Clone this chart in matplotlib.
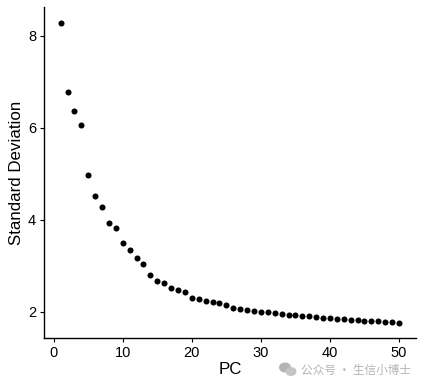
import matplotlib
matplotlib.use("Agg")
import matplotlib.pyplot as plt
from matplotlib.patches import Ellipse

# elbow plot values
pc = list(range(1, 51))
stdev = [8.29, 6.78, 6.36, 6.06, 4.97, 4.52, 4.29, 3.93, 3.83, 3.50,
         3.35, 3.18, 3.03, 2.80, 2.67, 2.62, 2.51, 2.47, 2.42, 2.30,
         2.27, 2.23, 2.21, 2.20, 2.15, 2.09, 2.05, 2.04, 2.02, 2.00,
         1.985, 1.975, 1.95, 1.94, 1.925, 1.915, 1.90, 1.89, 1.87, 1.86,
         1.85, 1.85, 1.83, 1.82, 1.81, 1.81, 1.79, 1.78, 1.77, 1.755]
xticks = [0, 10, 20, 30, 40, 50]
yticks = [2, 4, 6, 8]
watermark = "公众号 · 生信小博士"

plt.rcParams['font.family'] = ['Liberation Sans', 'DejaVu Sans']

W, H = 425, 388
fig = plt.figure(figsize=(W / 100, H / 100), dpi=100)
# axes box in pixels: left 43.7, right 416, top 7, bottom 338
ax = fig.add_axes([43.7 / W, 1 - 338 / H, (416 - 43.7) / W, (338 - 7) / H])

ax.scatter(pc, stdev, s=19, color="black", linewidths=0, zorder=3)

ax.set_xlim(-1.45, 52.46)
ax.set_ylim(1.43, 8.63)
ax.set_xticks(xticks)
ax.set_yticks(yticks)
ax.tick_params(labelsize=10.5, length=3, width=0.8, pad=2.5, colors="black")
ax.set_xlabel("PC", fontsize=12.2, labelpad=1.5)
ax.set_ylabel("Standard Deviation", fontsize=12.2, labelpad=3)

for side in ["top", "right"]:
    ax.spines[side].set_visible(False)
for side in ["left", "bottom"]:
    ax.spines[side].set_linewidth(1.0)

# watermark, wechat-like icon plus text
grey = "#b4b4b4"
fig.add_artist(Ellipse((285 / W, 1 - 367.5 / H), 12 / W, 10 / H, color=grey, lw=0,
                       transform=fig.transFigure))
fig.add_artist(Ellipse((291 / W, 1 - 371.5 / H), 11 / W, 9 / H, color="#c4c4c4", lw=0,
                       transform=fig.transFigure))
fig.text(301 / W, 1 - 370 / H, watermark, fontsize=8.4, color=grey, va="center", ha="left",
         family=['Noto Sans CJK SC', 'DejaVu Sans'])

fig.savefig("out.png", dpi=100)
